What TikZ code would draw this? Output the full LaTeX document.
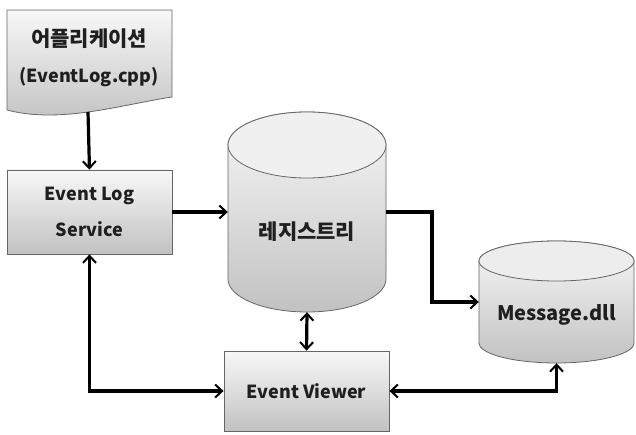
\documentclass[tikz,border=0pt]{standalone}
\usepackage{fontspec}
\setmainfont{Noto Sans CJK KR}
\usetikzlibrary{arrows.meta,positioning}

\begin{document}
\begin{tikzpicture}[
  x=1pt, y=1pt,
  every node/.style={font=\bfseries\fontsize{18}{36}\selectfont, text=black!88},
  shade/.style={draw=black!60, line width=0.8pt, top color=gray!6, bottom color=gray!48},
  box/.style={shade, align=center, inner sep=0pt},
  hold/.style={inner sep=0pt},
  flow/.style={line width=3.2pt},
  >={Straight Barb[length=7pt,width=13pt,line width=2pt]}
]

\path[use as bounding box] (0,0) rectangle (636,434);

% Application document with wavy bottom.
\draw[shade]
  (7,424) -- (172,424) -- (172,337)
  .. controls (120,329) and (60,310) .. (7,324) -- cycle;
\node[align=center] (app) at (89,376)
  {{\fontsize{21}{20}\selectfont 어플리케이션}\\(EventLog.cpp)};
\coordinate (app-bot) at (88,322);

% Boxes.
\node[box, minimum width=165pt, minimum height=84pt] (els) at (89.5,222)
  {Event Log\\Service};
\node[box, minimum width=165pt, minimum height=80pt] (ev) at (306.5,43)
  {Event Viewer};

% Registry drum.
\draw[shade]
  (228,289) -- (228,155) arc[start angle=180, end angle=360, x radius=79, y radius=33]
  -- (386,289) arc[start angle=0, end angle=180, x radius=79, y radius=33] -- cycle;
\draw[draw=black!60, line width=0.8pt, fill=gray!12] (307,289) ellipse[x radius=79, y radius=33];
\node[hold, minimum width=158pt, minimum height=200pt] (reg) at (307,222) {};
\node (reg-text) at (307,202) {\fontsize{21}{20}\selectfont 레지스트리};

% Message.dll drum.
\draw[shade]
  (479,173) -- (479,91) arc[start angle=180, end angle=360, x radius=77.5, y radius=20]
  -- (634,173) arc[start angle=0, end angle=180, x radius=77.5, y radius=20] -- cycle;
\draw[draw=black!60, line width=0.8pt, fill=gray!14] (556.5,173) ellipse[x radius=77.5, y radius=20];
\node[hold, minimum width=155pt, minimum height=122pt] (msg) at (556.5,132) {};
\node (msg-text) at (556.5,119) {\fontsize{20}{22}\selectfont Message.dll};

% Connectors.
\draw[flow, ->] (app-bot) -- (els.north);
\draw[flow, ->] (els.east) -- (reg.west);
\draw[flow, ->] (reg.east) -- (432,222) |- (msg.west);
\draw[flow, <->] (reg.south) -- (ev.north);
\draw[flow, <->] (els.south) |- (ev.west);
\draw[flow, <->] (msg.south) |- (ev.east);

\end{tikzpicture}
\end{document}
